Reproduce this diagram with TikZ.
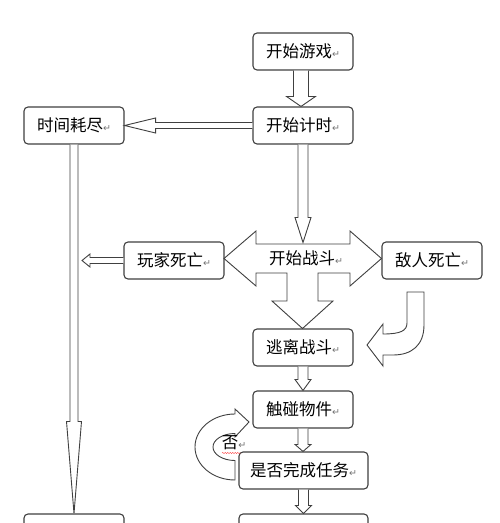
\documentclass[tikz,border=0pt]{standalone}
\usepackage{fontspec}
\newfontfamily\cjk{Noto Sans CJK SC}
\newfontfamily\dejavu{DejaVu Sans}
\usetikzlibrary{calc,decorations.pathmorphing}
\definecolor{linec}{HTML}{404040}
\tikzset{
  box/.style={draw=linec, line width=1.1pt, rounded corners=4pt, fill=white,
    minimum height=37pt, minimum width=100pt, inner sep=0pt,
    font=\cjk\fontsize{16.5}{18}\selectfont},
  blk/.style={draw=linec, line width=0.9pt, fill=white, line join=miter},
  lbl/.style={inner sep=0pt, font=\cjk\fontsize{16.5}{18}\selectfont},
}
\newcommand\rmk{\textcolor{black!55}{\dejavu\fontsize{9.5}{9.5}\selectfont ↵}}
% vertical block arrow: start, tip, shaft half width, head half width, head length
\newcommand\vblk[5]{\draw[blk] let \p1=(#1), \p2=(#2) in
  (\x1-#3pt,\y1) -- (\x1-#3pt,\y2+#5pt) -- (\x1-#4pt,\y2+#5pt) -- (\x1,\y2)
  -- (\x1+#4pt,\y2+#5pt) -- (\x1+#3pt,\y2+#5pt) -- (\x1+#3pt,\y1);}
% leftward block arrow
\newcommand\hblk[5]{\draw[blk] let \p1=(#1), \p2=(#2) in
  (\x1,\y1+#3pt) -- (\x2+#5pt,\y1+#3pt) -- (\x2+#5pt,\y1+#4pt) -- (\x2,\y1)
  -- (\x2+#5pt,\y1-#4pt) -- (\x2+#5pt,\y1-#3pt) -- (\x1,\y1-#3pt);}
\begin{document}
\begin{tikzpicture}[x=1pt,y=-1pt]
\path[use as bounding box] (0,0) rectangle (500,523);
\clip (0,0) rectangle (500,523);
\fill[white] (0,0) rectangle (500,523);

% nodes
\node[box] (g1) at (303,51.5) {开始游戏\rmk};
\node[box] (g2) at (303,125.5) {开始计时\rmk};
\node[box] (t) at (74,125.5) {时间耗尽\rmk};
\node[box] (p) at (174,260.5) {玩家死亡\rmk};
\node[box] (e) at (432,260.5) {敌人死亡\rmk};
\node[box] (esc) at (303,347.5) {逃离战斗\rmk};
\node[box] (touch) at (303,409.5) {触碰物件\rmk};
\node[box, minimum width=129pt] (done) at (303.5,470.5) {是否完成任务\rmk};
\node[box] (bl) at (74,532.5) {};
\node[box, minimum width=129pt] (br) at (303.5,532.5) {};
\coordinate (bt) at (303,242.5);
\coordinate (pt) at (82,261);

% battle shape (left / right / down block arrow)
\draw[blk] (256,244) -- (350,244) -- (350,231) -- (381.5,258.5) -- (350,286)
  -- (350,273) -- (318,273) -- (318,301) -- (333,301) -- (302.5,328.5)
  -- (272,301) -- (287,301) -- (287,273) -- (256,273) -- (256,286)
  -- (224,258.5) -- (256,231) -- cycle;
\node[lbl] (fight) at (306,258.5) {开始战斗\rmk};

% block arrows between nodes
\vblk{[xshift=-2pt]g1.south}{[xshift=-2pt]g2.north}{7.5}{14.5}{10}
\vblk{g2.south}{bt}{5}{8}{25}
\hblk{g2.west}{t.east}{3}{7.5}{31}
\vblk{t.south}{bl.north}{4}{7.5}{92}
\hblk{p.west}{pt}{3}{6.5}{8}
\vblk{esc.south}{touch.north}{5}{8}{11}
\vblk{touch.south}{done.north}{5}{8}{7}
\vblk{done.south}{br.north}{5}{8}{8}

% bent arrow from enemy death to escape
\draw[blk] (407,292) -- (407,323) .. controls (407,331) and (400,334) .. (383,334)
  -- (383,324) -- (367,345) -- (383,366) -- (383,355) -- (393,355)
  .. controls (412,355) and (424,345) .. (424,325) -- (424,292) -- cycle;

% circular "no" arrow
\draw[blk] (235,480) arc[start angle=90,end angle=270,x radius=40,y radius=33]
  -- (235,409) -- (249,422) -- (235,437) -- (235,433.5)
  arc[start angle=270,end angle=90,x radius=22,y radius=13.5] -- cycle;
\node[lbl] (no) at (234,443) {否\rmk};
\draw[red!75, line width=0.4pt, decorate, decoration={snake, amplitude=0.6pt, segment length=2.5pt}] (222,453) -- (241,453);
\end{tikzpicture}
\end{document}
